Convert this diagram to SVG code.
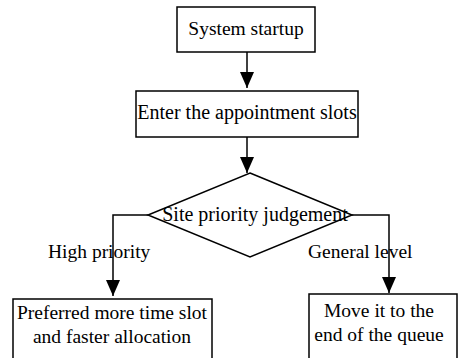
<svg xmlns="http://www.w3.org/2000/svg" width="460" height="358" viewBox="0 0 460 358">
  <style>
    .box { fill: #fff; stroke: #000; stroke-width: 1.5; }
    .t { font-family: "Liberation Serif", "Times New Roman", serif; font-size: 19.5px; fill: #000; }
    .big { font-size: 20px; }
    .c { text-anchor: middle; }
    .ln { fill: none; stroke: #000; stroke-width: 1.5; }
  </style>
  <defs>
    <marker id="arrow" markerWidth="16" markerHeight="14" refX="16" refY="7" orient="auto" markerUnits="userSpaceOnUse">
      <path d="M0,0 L16,7 L0,14 Z" fill="#000"/>
    </marker>
  </defs>
  <rect width="460" height="358" fill="#fff"/>

  <g id="connectors">
    <line class="ln" x1="247" y1="52" x2="247" y2="88" marker-end="url(#arrow)"/>
    <line class="ln" x1="247" y1="137" x2="247" y2="173" marker-end="url(#arrow)"/>
    <polyline class="ln" points="148,215 113,215 113,296" marker-end="url(#arrow)"/>
    <polyline class="ln" points="352,215 389,215 389,293" marker-end="url(#arrow)"/>
  </g>

  <g id="start">
    <rect class="box" x="177" y="7" width="138" height="45"/>
    <text class="t c" x="246" y="35">System startup</text>
  </g>

  <g id="enter-slots">
    <rect class="box" x="136" y="91" width="222" height="46"/>
    <text class="t big c" x="247" y="119">Enter the appointment slots</text>
  </g>

  <g id="priority-judgement">
    <polygon class="box" points="250,173 352,215 250,257 148,215"/>
    <text class="t big c" x="255" y="221">Site priority judgement</text>
  </g>

  <g id="label-high">
    <text class="t" x="48" y="258">High priority</text>
  </g>

  <g id="label-general">
    <text class="t" x="308" y="258">General level</text>
  </g>

  <g id="preferred">
    <rect class="box" x="13" y="299" width="199" height="62"/>
    <text class="t c" x="112" y="319">Preferred more time slot</text>
    <text class="t c" x="112" y="343">and faster allocation</text>
  </g>

  <g id="move-to-end">
    <rect class="box" x="309" y="294" width="148" height="67"/>
    <text class="t c" x="379" y="317">Move it to the</text>
    <text class="t c" x="379" y="341">end of the queue</text>
  </g>
</svg>
